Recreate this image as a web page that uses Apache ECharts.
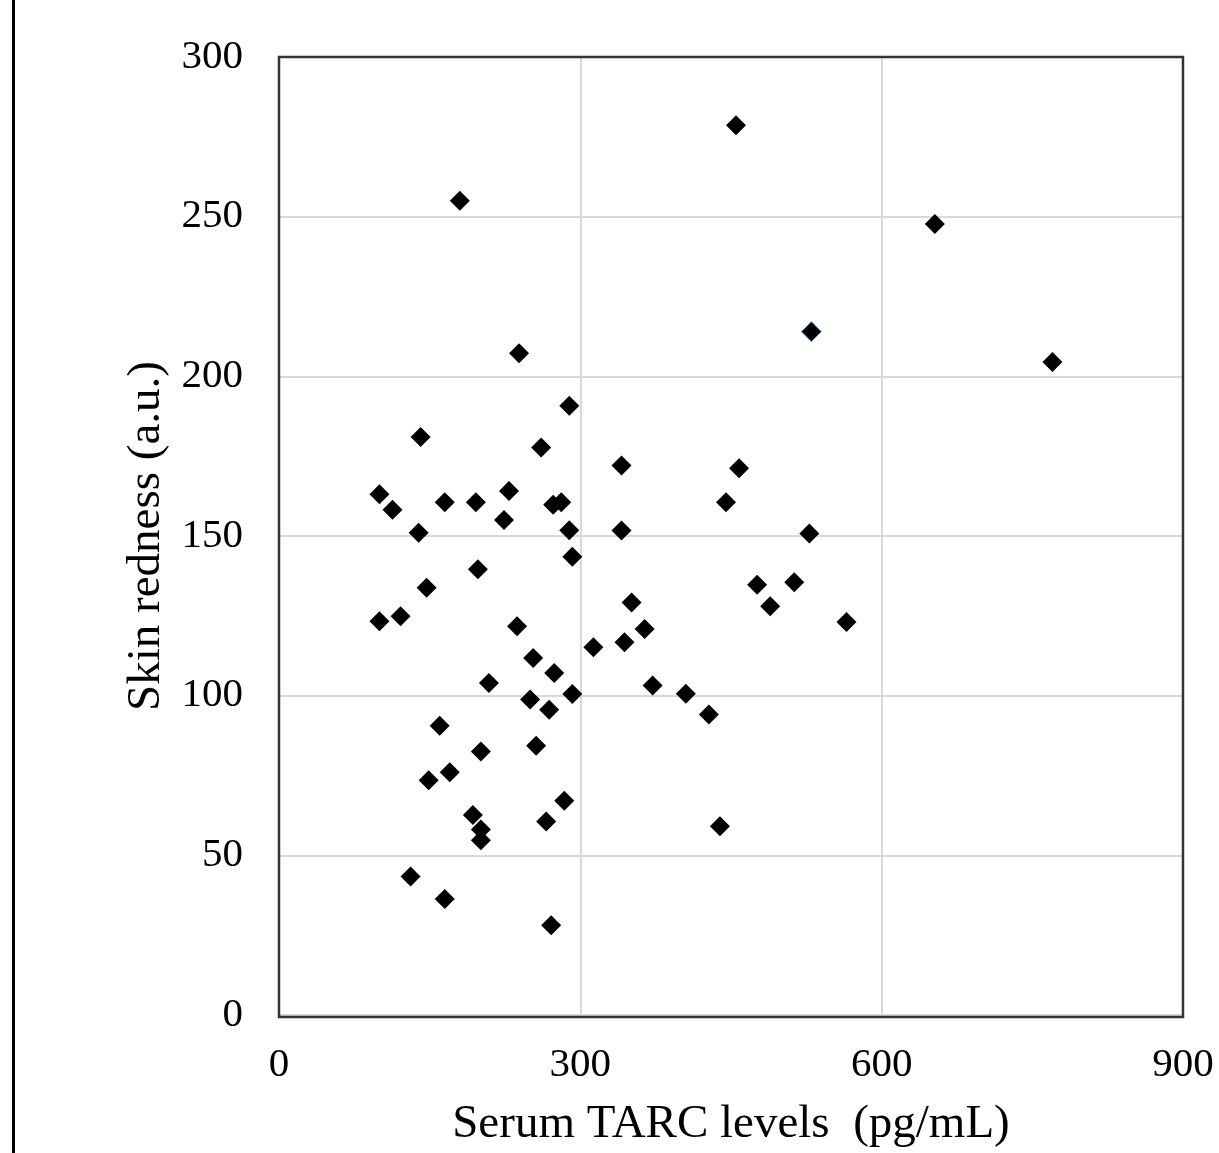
<!DOCTYPE html>
<html>
<head>
<meta charset="utf-8">
<script src="https://cdn.jsdelivr.net/npm/echarts@6/dist/echarts.min.js"></script>
<style>
html,body{margin:0;padding:0;background:#fff;}
#chart{width:1219px;height:1153px;}
</style>
</head>
<body>
<div id="chart"></div>
<script>
// Serum TARC levels (pg/mL)
const tarc = [455, 180, 653, 530, 770, 239, 289, 141, 261, 341, 458, 100, 113, 165, 196, 229, 224, 273, 281, 139,
  289, 341, 445, 528, 292, 198, 147, 351, 476, 513, 489, 100, 121, 565, 237, 364, 313, 344, 253, 274,
  209, 372, 405, 292, 250, 269, 428, 160, 201, 256, 170, 149, 284, 193, 201, 201, 266, 439, 131, 165, 271];
// Skin redness (a.u.)
const redness = [278.6, 255, 247.7, 214, 204.5, 207.2, 190.8, 181, 177.7, 172.1, 171.2, 163.1, 158.2, 160.6, 160.6, 164.1, 155, 159.8, 160.6, 151,
  151.8, 151.7, 160.6, 150.8, 143.5, 139.6, 133.8, 129.2, 134.7, 135.5, 128, 123.3, 124.9, 123.1, 121.7, 120.9, 115.2, 116.7, 111.8, 107.1,
  104, 103.2, 100.6, 100.5, 98.8, 95.6, 94.1, 90.6, 82.5, 84.3, 76, 73.5, 67.1, 62.6, 58.1, 54.7, 60.6, 59.1, 43.4, 36.3, 28.1];
const xTicks = [0, 300, 600, 900];
const yTicks = [0, 50, 100, 150, 200, 250, 300];
const xTitle = 'Serum TARC levels  (pg/mL)';
const yTitle = 'Skin redness (a.u.)';
const blueEdgeIndex = 3;

const points = tarc.map((x, i) => {
  const p = { value: [x, redness[i]] };
  if (i === blueEdgeIndex) p.itemStyle = { borderColor: '#5b9bd5', borderWidth: 1 };
  return p;
});

const G = { left: 279, top: 57, width: 904, height: 960 };
const chart = echarts.init(document.getElementById('chart'), null, { renderer: 'canvas' });
const font = 'Liberation Serif';
chart.setOption({
  animation: false,
  backgroundColor: '#ffffff',
  grid: { left: G.left, top: G.top, width: G.width, height: G.height, show: false },
  xAxis: {
    type: 'value', min: xTicks[0], max: xTicks[xTicks.length - 1], interval: 300,
    name: xTitle, nameLocation: 'middle', nameGap: 86,
    nameTextStyle: { fontFamily: font, fontSize: 47, color: '#000' },
    axisLine: { show: false }, axisTick: { show: false },
    axisLabel: { fontFamily: font, fontSize: 41, color: '#000', margin: 30 },
    splitLine: { show: true, lineStyle: { color: '#d9d9d9', width: 2 } }
  },
  yAxis: {
    type: 'value', min: yTicks[0], max: yTicks[yTicks.length - 1], interval: 50,
    name: yTitle, nameLocation: 'middle', nameGap: 109,
    nameTextStyle: { fontFamily: font, fontSize: 47, color: '#000' },
    axisLine: { show: false }, axisTick: { show: false },
    axisLabel: { fontFamily: font, fontSize: 41, color: '#000', margin: 36 },
    splitLine: { show: true, lineStyle: { color: '#d9d9d9', width: 2 } }
  },
  graphic: [{
    type: 'line', shape: { x1: 13.5, y1: 0, x2: 13.5, y2: 1153 },
    style: { stroke: '#000', lineWidth: 3 }
  }, {
    type: 'rect', z: 100, silent: true,
    shape: { x: G.left, y: G.top, width: G.width, height: G.height },
    style: { fill: 'none', stroke: '#333', lineWidth: 2.5 }
  }],
  series: [{
    type: 'scatter', data: points, symbol: 'diamond', symbolSize: 20,
    itemStyle: { color: '#000', opacity: 1 }
  }]
});
</script>
</body>
</html>
